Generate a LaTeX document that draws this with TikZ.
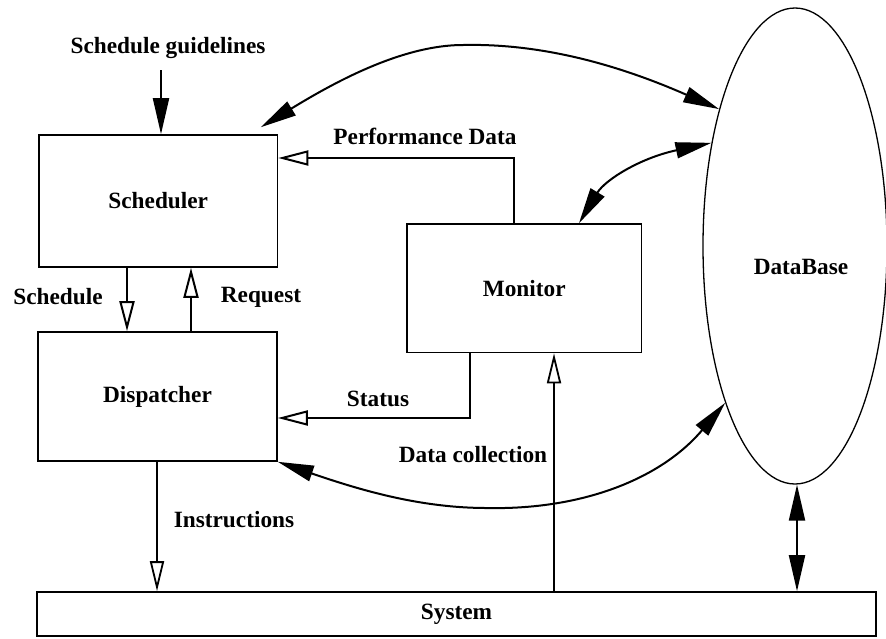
\documentclass[tikz,border=0pt]{standalone}
\usepackage{fontspec}
\setmainfont{Liberation Serif}
\usetikzlibrary{arrows.meta,shapes.geometric}
\begin{document}
\begin{tikzpicture}[x=1pt,y=-1pt,
  lbl/.style={font=\bfseries\fontsize{23.3}{26}\selectfont, inner sep=0pt},
  box/.style={draw, line width=1.6pt, rectangle, inner sep=0pt,
              font=\bfseries\fontsize{23.3}{26}\selectfont},
  bothsolid/.style={line width=2pt, {Triangle[length=36pt,width=16pt]}-{Triangle[length=36pt,width=16pt]}},
  solidarrow/.style={line width=2pt, -{Triangle[length=36pt,width=16pt]}},
  openarrow/.style={line width=2pt,
     -{Triangle[open,length=30pt,width=15pt,line width=2pt]}},
  thinopen/.style={line width=1.4pt,
     -{Triangle[open,length=30pt,width=14pt,line width=1.8pt]}}
]
\useasboundingbox (0,0) rectangle (886,638);

% main blocks
\node[box, minimum width=238.5pt, minimum height=132pt] (sched) at (158.25,201) {Scheduler};
\node[box, minimum width=239pt, minimum height=129pt] (disp) at (157.5,396.5) {Dispatcher};
\node[box, minimum width=234.5pt, minimum height=128.5pt] (mon) at (524.25,288.25) {Monitor};
\node[box, minimum width=839pt, minimum height=44pt] (sys) at (456.5,614) {System};
\node[draw, ellipse, line width=1.3pt, minimum width=184pt, minimum height=476pt,
      inner sep=0pt] (db) at (795,246) {};
\node[lbl] (dbtext) at (801,267) {DataBase};

% free labels
\node[lbl] (glabel) at (168,48) {Schedule guidelines};
\node[lbl] (perflabel) at (425,136) {Performance Data};
\node[lbl] (schlabel) at (58,297) {Schedule};
\node[lbl] (reqlabel) at (261,297) {Request};
\node[lbl] (statlabel) at (378,399) {Status};
\node[lbl] (dclabel) at (473,455) {Data collection};
\node[lbl] (inslabel) at (234,520) {Instructions};

% guidelines into the scheduler
\coordinate (gtop) at (161,70);
\draw[solidarrow] (gtop) -- (gtop |- sched.north);

% scheduler <-> dispatcher
\draw[openarrow] ([xshift=-31.25pt]sched.south) -- ([xshift=-31.25pt]sched.south |- disp.north);
\draw[openarrow] ([xshift=32.75pt]sched.south |- disp.north) -- ([xshift=32.75pt]sched.south);

% monitor feedback
\draw[openarrow] ([xshift=-10.25pt]mon.north) |- ([yshift=43pt]sched.east);
\draw[openarrow] ([xshift=-54.25pt]mon.south) |- ([yshift=-21.5pt]disp.east);

% system links
\draw[thinopen] ([xshift=-0.5pt]disp.south) -- ([xshift=-0.5pt]disp.south |- sys.north);
\draw[thinopen] ([xshift=29.75pt]mon.south |- sys.north) -- ([xshift=29.75pt]mon.south);

% database links
\draw[bothsolid] ([xshift=-17.5pt,yshift=7pt]sched.north east)
   .. controls (330,85) and (400,45) .. (463,45)
   .. controls (550,43) and (630,70) .. (db.119);
\draw[bothsolid] ([xshift=54.75pt]mon.north)
   .. controls (605,180) and (640,158) .. (db.129);
\draw[bothsolid] (disp.south east)
   .. controls (360,490) and (420,508) .. (487,508)
   .. controls (580,510) and (660,480) .. (db.246);
\draw[bothsolid] ([xshift=2pt]db.south) -- ([xshift=2pt]db.south |- sys.north);
\end{tikzpicture}
\end{document}
